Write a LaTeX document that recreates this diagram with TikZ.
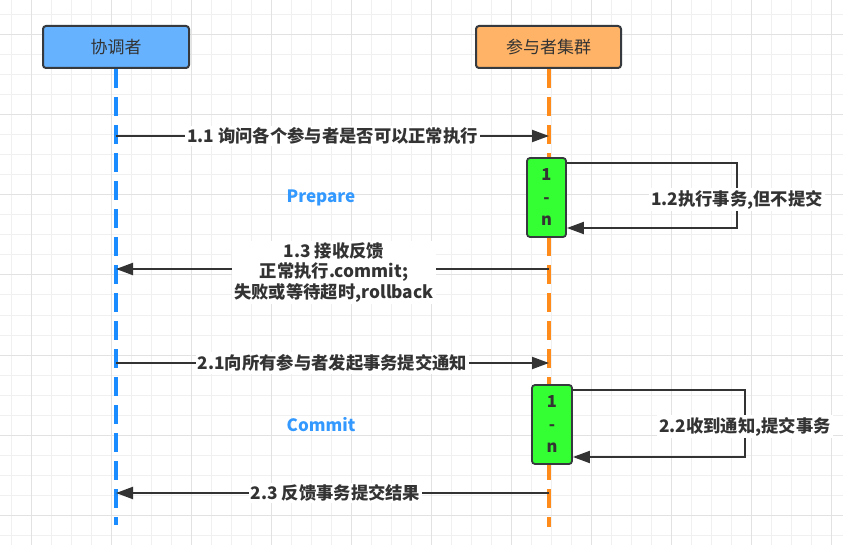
\documentclass[tikz,border=0pt]{standalone}
\usepackage{fontspec}
\setmainfont{Noto Sans CJK SC}
\usetikzlibrary{arrows.meta}
\definecolor{inkc}{HTML}{333333}
\definecolor{edgec}{HTML}{36393D}
\definecolor{bluefill}{HTML}{66B2FF}
\definecolor{orangefill}{HTML}{FFB366}
\definecolor{greenfill}{HTML}{33FF33}
\definecolor{bluelife}{HTML}{1A8CFF}
\definecolor{orangelife}{HTML}{FF8C1A}
\definecolor{phasec}{HTML}{3399FF}
\definecolor{gridminor}{HTML}{F0F0F0}
\definecolor{gridmajor}{HTML}{E2E2E2}
\tikzset{
  x=1pt, y=-1pt,
  actor/.style={draw=edgec, line width=2pt, rounded corners=3pt, text=inkc,
    font=\fontsize{17}{19}\selectfont, inner sep=0pt},
  actbox/.style={draw=edgec, line width=1.8pt, rounded corners=3pt, fill=greenfill, text=inkc,
    font=\fontsize{16.5}{22.5}\selectfont\bfseries, align=center, inner sep=0pt,
    minimum width=39pt, minimum height=79pt},
  lifeline/.style={line width=3.5pt, dash pattern=on 19pt off 9pt},
  msg/.style={draw=inkc, line width=2pt, -{Triangle[length=17pt,width=12pt]}},
  lbl/.style={fill=white, text=inkc, font=\fontsize{17.3}{20.5}\selectfont\bfseries,
    inner sep=2pt, align=center},
  phase/.style={text=phasec, font=\fontsize{17}{19}\selectfont\bfseries}
}
\begin{document}
\begin{tikzpicture}
\useasboundingbox (0,0) rectangle (843,545);
\fill[white] (0,0) rectangle (843,545);
% grid
\foreach \x in {11,31,...,831} \draw[gridminor, line width=1pt] (\x,0) -- (\x,545);
\foreach \y in {15,35,...,535} \draw[gridminor, line width=1pt] (0,\y) -- (843,\y);
\foreach \x in {31,111,...,831} \draw[gridmajor, line width=1pt] (\x,0) -- (\x,545);
\foreach \y in {35,115,...,515} \draw[gridmajor, line width=1pt] (0,\y) -- (843,\y);

% actors
\node[actor, fill=bluefill, minimum width=146pt, minimum height=42pt] (coord) at (116,47) {协调者};
\node[actor, fill=orangefill, minimum width=145pt, minimum height=42pt] (part) at (548.5,47) {参与者集群};

% lifeline ends
\coordinate (coordend) at (116,525);
\coordinate (partend) at (549,527);
\draw[lifeline, bluelife] (coord.south) -- (coordend);
\draw[lifeline, orangelife] (part.south -| partend) -- (partend);

% activation boxes
\node[actbox] (act1) at (546.5,197.5) {1\\-\\n};
\node[actbox, minimum width=40pt] (act2) at (552,424.5) {1\\-\\n};

% message anchor points on lifelines
\coordinate (c11) at (116,136);  \coordinate (p11) at (549,136);
\coordinate (c13) at (116,269);  \coordinate (p13) at (549,269);
\coordinate (c21) at (116,363);  \coordinate (p21) at (549,363);
\coordinate (c23) at (116,493);  \coordinate (p23) at (549,493);

\draw[msg] (c11) -- node[lbl] {1.1 询问各个参与者是否可以正常执行} (p11);
\draw[msg] (p13) -- node[lbl, xshift=1.5pt, yshift=-3.5pt] {1.3 接收反馈\\正常执行.commit;\\失败或等待超时,rollback} (c13);
\draw[msg] (c21) -- node[lbl] {2.1向所有参与者发起事务提交通知} (p21);
\draw[msg] (p23) -- node[lbl, xshift=3pt] {2.3 反馈事务提交结果} (c23);

% self loops
\coordinate (l1a) at (737,163); \coordinate (l1b) at (737,228);
\draw[msg] (act1.east |- l1a) -- (l1a) -- node[lbl, yshift=-4pt] {1.2执行事务,但不提交} (l1b) -- (act1.east |- l1b);
\coordinate (l2a) at (745,390); \coordinate (l2b) at (745,457);
\draw[msg] (act2.east |- l2a) -- (l2a) -- node[lbl, yshift=-3pt] {2.2收到通知,提交事务} (l2b) -- (act2.east |- l2b);

% phase labels
\node[phase] (prep) at (321,198) {Prepare};
\node[phase] (comm) at (321,425) {Commit};
\end{tikzpicture}
\end{document}
